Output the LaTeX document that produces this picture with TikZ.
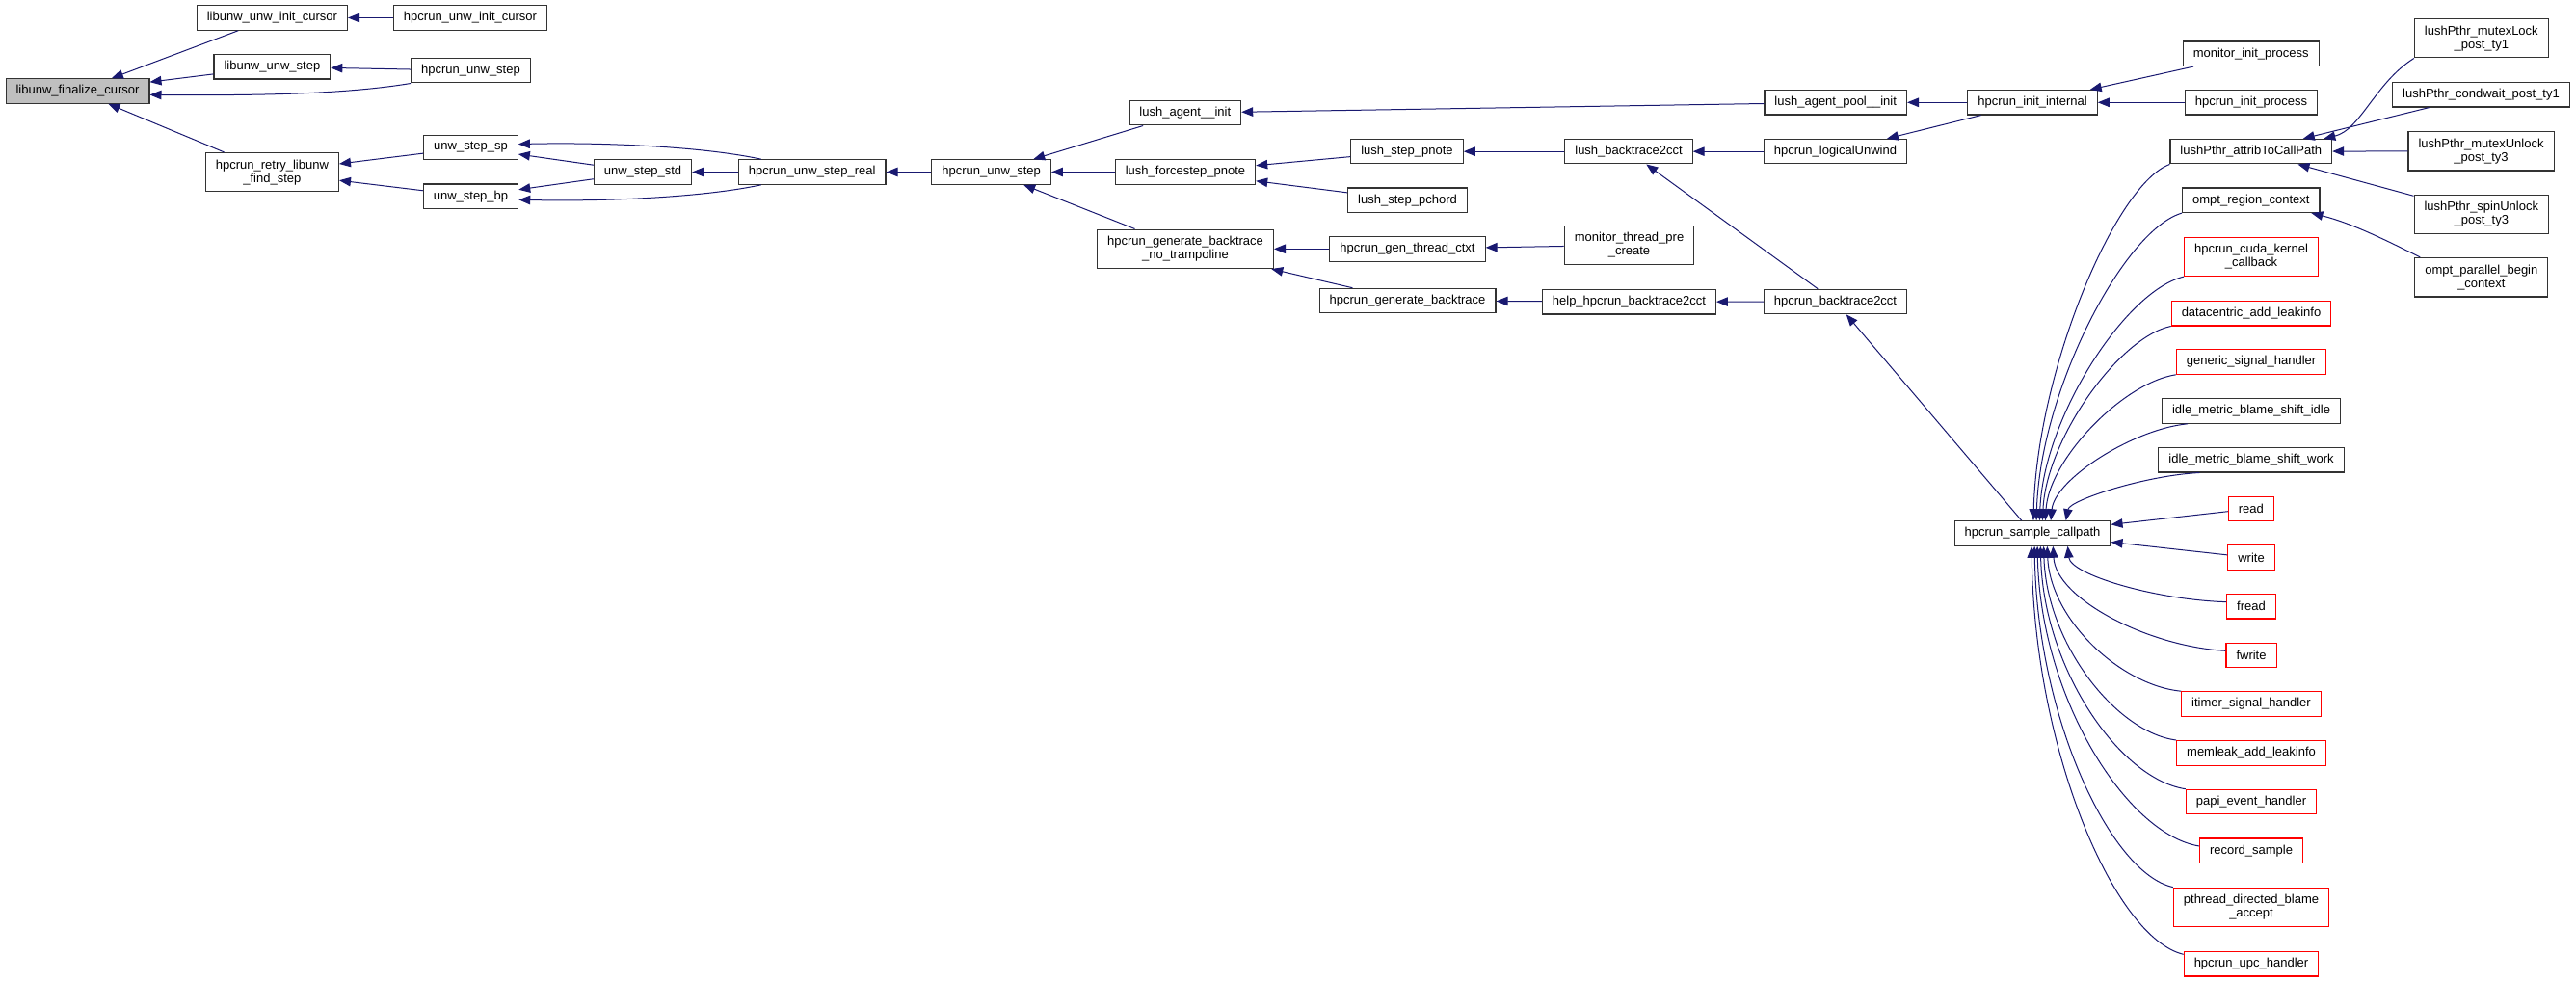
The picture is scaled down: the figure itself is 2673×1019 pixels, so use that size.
\documentclass[tikz,border=0pt]{standalone}
\usepackage{fontspec}
\setmainfont{Liberation Sans}
\usetikzlibrary{arrows.meta}
\definecolor{edgeblue}{RGB}{25,25,112}
\definecolor{rootgray}{RGB}{191,191,191}

\begin{document}
\begin{tikzpicture}[x=1pt,y=-1pt,
  fn/.style={draw=black!80, line width=1.1pt, fill=white, inner xsep=10.5pt, inner ysep=3pt,
    minimum height=25.5pt, align=center, font=\fontsize{13}{14}\selectfont},
  rootfn/.style={fn, fill=rootgray},
  trunc/.style={fn, draw=red},
  twoline/.style={minimum height=40.5pt},
  callarrow/.style={draw=edgeblue, line width=1pt, {Triangle[length=12pt,width=9.5pt]}-}]
\useasboundingbox (0,0) rectangle (2673,1019);

% nodes, column by column
\node[rootfn] (fin) at (80.5,94.5) {libunw\_finalize\_cursor};
\node[fn] (luic) at (282.4,18.5) {libunw\_unw\_init\_cursor};
\node[fn] (lus) at (282.4,69.3) {libunw\_unw\_step};
\node[fn, twoline] (retry) at (282.4,178.7) {hpcrun\_retry\_libunw\\\_find\_step};
\node[fn] (huic) at (488,18.5) {hpcrun\_unw\_init\_cursor};
\node[fn] (hus) at (488.5,73.2) {hpcrun\_unw\_step};
\node[fn] (usp) at (488.5,153) {unw\_step\_sp};
\node[fn] (ubp) at (488.5,203.8) {unw\_step\_bp};
\node[fn] (ustd) at (667,178.5) {unw\_step\_std};
\node[fn] (usreal) at (842.7,178.5) {hpcrun\_unw\_step\_real};
\node[fn] (hustep) at (1028.6,178.5) {hpcrun\_unw\_step};
\node[fn] (lainit) at (1229.8,117.2) {lush\_agent\_\_init};
\node[fn] (lfpn) at (1230,178.5) {lush\_forcestep\_pnote};
\node[fn, twoline] (gbnt) at (1230,258.3) {hpcrun\_generate\_backtrace\\\_no\_trampoline};
\node[fn] (lspn) at (1460,157.2) {lush\_step\_pnote};
\node[fn] (lspc) at (1460.5,207.8) {lush\_step\_pchord};
\node[fn] (gtc) at (1460.5,258.3) {hpcrun\_gen\_thread\_ctxt};
\node[fn] (gbt) at (1460.5,312) {hpcrun\_generate\_backtrace};
\node[fn] (lb2c) at (1690,157.2) {lush\_backtrace2cct};
\node[fn, twoline] (mtpc) at (1690.5,254.3) {monitor\_thread\_pre\\\_create};
\node[fn] (hhb2c) at (1690.4,313.2) {help\_hpcrun\_backtrace2cct};
\node[fn] (lapi) at (1904.7,106.3) {lush\_agent\_pool\_\_init};
\node[fn] (hlu) at (1904.5,157.2) {hpcrun\_logicalUnwind};
\node[fn] (hb2c) at (1904.5,313) {hpcrun\_backtrace2cct};
\node[fn] (hii) at (2109,106.3) {hpcrun\_init\_internal};
\node[fn] (hsc) at (2109,553.5) {hpcrun\_sample\_callpath};
\node[fn] (mip) at (2335.7,55.8) {monitor\_init\_process};
\node[fn] (hip) at (2336,106.3) {hpcrun\_init\_process};
\node[fn] (attrib) at (2335.8,157.2) {lushPthr\_attribToCallPath};
\node[fn] (orc) at (2335.8,207.8) {ompt\_region\_context};
\node[trunc, twoline] (cuda) at (2336,266.3) {hpcrun\_cuda\_kernel\\\_callback};
\node[trunc] (dcal) at (2336,325.2) {datacentric\_add\_leakinfo};
\node[trunc] (gsh) at (2336,375.5) {generic\_signal\_handler};
\node[fn] (imbi) at (2336,426.5) {idle\_metric\_blame\_shift\_idle};
\node[fn] (imbw) at (2336,477.2) {idle\_metric\_blame\_shift\_work};
\node[trunc] (read) at (2335.8,528) {read};
\node[trunc] (write) at (2336,578.6) {write};
\node[trunc] (fread) at (2336,629.2) {fread};
\node[trunc] (fwrite) at (2336,680) {fwrite};
\node[trunc] (itsh) at (2336,730.5) {itimer\_signal\_handler};
\node[trunc] (mal) at (2336,781.3) {memleak\_add\_leakinfo};
\node[trunc] (peh) at (2336,832) {papi\_event\_handler};
\node[trunc] (rs) at (2336,882.7) {record\_sample};
\node[trunc, twoline] (pdba) at (2336,941.4) {pthread\_directed\_blame\\\_accept};
\node[trunc] (upc) at (2336,1000.2) {hpcrun\_upc\_handler};
\node[fn, twoline] (mlock) at (2574.8,39.7) {lushPthr\_mutexLock\\\_post\_ty1};
\node[fn] (cwait) at (2574.5,98.3) {lushPthr\_condwait\_post\_ty1};
\node[fn, twoline] (munlock) at (2574.5,156.8) {lushPthr\_mutexUnlock\\\_post\_ty3};
\node[fn, twoline] (sunlock) at (2574.8,222.5) {lushPthr\_spinUnlock\\\_post\_ty3};
\node[fn, twoline] (opbc) at (2574.8,287.7) {ompt\_parallel\_begin\\\_context};

% callers
\draw[callarrow] (fin) -- (luic);
\draw[callarrow] (luic) -- (huic);
\draw[callarrow] (fin) -- (lus);
\draw[callarrow] (lus) -- (hus);
\draw[callarrow] (fin.-3) .. controls +(130,1) and +(-60,10) .. (hus.south west);
\draw[callarrow] (fin) -- (retry);
\draw[callarrow] (retry) -- (usp);
\draw[callarrow] (retry) -- (ubp);
\draw[callarrow] (usp) -- (ustd);
\draw[callarrow] (ubp) -- (ustd);
\draw[callarrow] (usp.4) .. controls +(90,-2) and +(-60,-13) .. ([xshift=24pt]usreal.north west);
\draw[callarrow] (ubp.-4) .. controls +(90,2) and +(-60,13) .. ([xshift=24pt]usreal.south west);
\draw[callarrow] (ustd) -- (usreal);
\draw[callarrow] (usreal) -- (hustep);
\draw[callarrow] (hustep) -- (lainit);
\draw[callarrow] (hustep) -- (lfpn);
\draw[callarrow] (hustep) -- (gbnt);
\draw[callarrow] (lainit) -- (lapi);
\draw[callarrow] (lfpn) -- (lspn);
\draw[callarrow] (lfpn) -- (lspc);
\draw[callarrow] (gbnt) -- (gtc);
\draw[callarrow] (gbnt) -- (gbt);
\draw[callarrow] (lspn) -- (lb2c);
\draw[callarrow] (gtc) -- (mtpc);
\draw[callarrow] (gbt) -- (hhb2c);
\draw[callarrow] (lb2c) -- (hlu);
\draw[callarrow] (lb2c) -- (hb2c);
\draw[callarrow] (hhb2c) -- (hb2c);
\draw[callarrow] (lapi) -- (hii);
\draw[callarrow] (hlu) -- (hii);
\draw[callarrow] (hii) -- (mip);
\draw[callarrow] (hii) -- (hip);
\draw[callarrow] (hb2c) -- (hsc);

% callers of hpcrun_sample_callpath
\draw[callarrow] (hsc.86) .. controls +(4,-155.7) and +(-56.2,20.4) .. (attrib.south west);
\draw[callarrow] (hsc.73) .. controls +(4,-134.4) and +(-60.6,17.6) .. (orc.south west);
\draw[callarrow] (hsc.61) .. controls +(4,-106.8) and +(-60.3,14) .. (cuda.south west);
\draw[callarrow] (hsc.52) .. controls +(4,-85.1) and +(-53.5,11.1) .. (dcal.south west);
\draw[callarrow] (hsc.45) .. controls +(4,-64) and +(-54.6,8.4) .. (gsh.south west);
\draw[callarrow] (hsc.35) .. controls +(4,-42.6) and +(-57.2,5.6) .. ([xshift=27pt]imbi.south west);
\draw[callarrow] (hsc.21) .. controls +(4,-21.3) and +(-56,2.8) .. ([xshift=43pt]imbw.south west);
\draw[callarrow] (hsc) -- (read);
\draw[callarrow] (hsc) -- (write);
\draw[callarrow] (hsc.-20) .. controls +(3,29.3) and +(-74.6,-2.3) .. (fread.170);
\draw[callarrow] (hsc.-32) .. controls +(3,54.4) and +(-80.3,-4.3) .. (fwrite.170);
\draw[callarrow] (hsc.-41) .. controls +(3,75.7) and +(-63,-6.1) .. (itsh.north west);
\draw[callarrow] (hsc.-49) .. controls +(3,101.1) and +(-62.3,-8.1) .. (mal.north west);
\draw[callarrow] (hsc.-58) .. controls +(3,126.6) and +(-68.4,-10.1) .. (peh.north west);
\draw[callarrow] (hsc.-69) .. controls +(3,155.9) and +(-76,-12.5) .. (rs.175);
\draw[callarrow] (hsc.-81) .. controls +(3,177.6) and +(-65,-14.2) .. (pdba.north west);
\draw[callarrow] (hsc.-94) .. controls +(3,212.4) and +(-71.5,-17) .. (upc.172);

% callers of lushPthr_attribToCallPath and ompt_region_context
\draw[callarrow] (attrib.10) .. controls +(38,-9) and +(-40,25) .. (mlock.south west);
\draw[callarrow] (attrib) -- (cwait);
\draw[callarrow] (attrib) -- (munlock);
\draw[callarrow] (attrib) -- (sunlock);
\draw[callarrow] (orc.-12) .. controls +(40,10) and +(-40,-20) .. ([xshift=6pt]opbc.north west);
\end{tikzpicture}
\end{document}
